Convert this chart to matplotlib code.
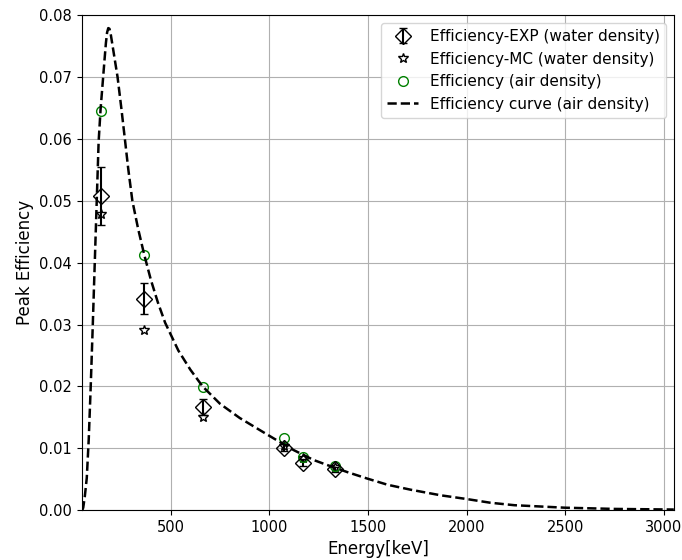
import numpy as np
import matplotlib.pyplot as plt

# measured points (keV)
energy = [145, 366, 662, 1075, 1173, 1332]
eff_exp = [0.0508, 0.0342, 0.0166, 0.0101, 0.0077, 0.0066]
eff_exp_err = [0.0047, 0.0025, 0.0013, 0.0006, 0.0005, 0.0004]
eff_mc = [0.0478, 0.0291, 0.0151, 0.0104, 0.0084, 0.0070]
eff_air = [0.0645, 0.0413, 0.0199, 0.0116, 0.0086, 0.0072]

# efficiency curve (air density)
curve_e = [52, 57, 65, 75, 85, 95, 105, 115, 125, 135, 145, 155, 165, 172,
           178, 184, 190, 196, 204, 217, 231, 250, 268, 285, 306, 335, 366,
           400, 435, 472, 539, 600, 662, 750, 850, 954, 1022, 1124, 1225,
           1293, 1400, 1497, 1600, 1717, 1869, 2000, 2120, 2242, 2496, 2750,
           3050]
curve_eff = [0.0, 0.0004, 0.0022, 0.0052, 0.0115, 0.0200, 0.0295, 0.0395,
             0.0495, 0.0595, 0.0648, 0.0688, 0.0728, 0.0755, 0.0772, 0.0779,
             0.0778, 0.0770, 0.0754, 0.0728, 0.0700, 0.0650, 0.0600, 0.0552,
             0.0500, 0.0455, 0.0413, 0.0372, 0.0336, 0.0303, 0.0258, 0.0227,
             0.0200, 0.0172, 0.0149, 0.0129, 0.0116, 0.0097, 0.0081, 0.0073,
             0.0061, 0.0051, 0.0041, 0.0033, 0.0024, 0.0018, 0.0012, 0.0008,
             0.0004, 0.0002, 0.0001]

fig = plt.figure(figsize=(6.82, 5.6), dpi=100)
ax = fig.add_axes([0.120, 0.089, 0.868, 0.884])

h_exp = ax.errorbar(energy, eff_exp, yerr=eff_exp_err, fmt='D', mfc='none',
                    mec='k', ecolor='k', ms=8, capsize=3)
h_mc, = ax.plot(energy, eff_mc, '*', mfc='none', mec='k', ms=7)
h_air, = ax.plot(energy, eff_air, 'o', mfc='none', mec='green', ms=7)
h_curve, = ax.plot(curve_e, curve_eff, 'k--', lw=1.8)

ax.set_xlim(50, 3050)
ax.set_ylim(0, 0.08)
ax.set_xticks([500, 1000, 1500, 2000, 2500, 3000])
ax.set_yticks(np.arange(0, 0.081, 0.01))
ax.tick_params(labelsize=10.5)
ax.set_xlabel('Energy[keV]', fontsize=12)
ax.set_ylabel('Peak Efficiency', fontsize=12)
ax.grid(True)
ax.legend([h_exp, h_mc, h_air, h_curve],
          ['Efficiency-EXP (water density)', 'Efficiency-MC (water density)',
           'Efficiency (air density)', 'Efficiency curve (air density)'],
          loc='upper right', fontsize=11)

plt.savefig('out.png')
